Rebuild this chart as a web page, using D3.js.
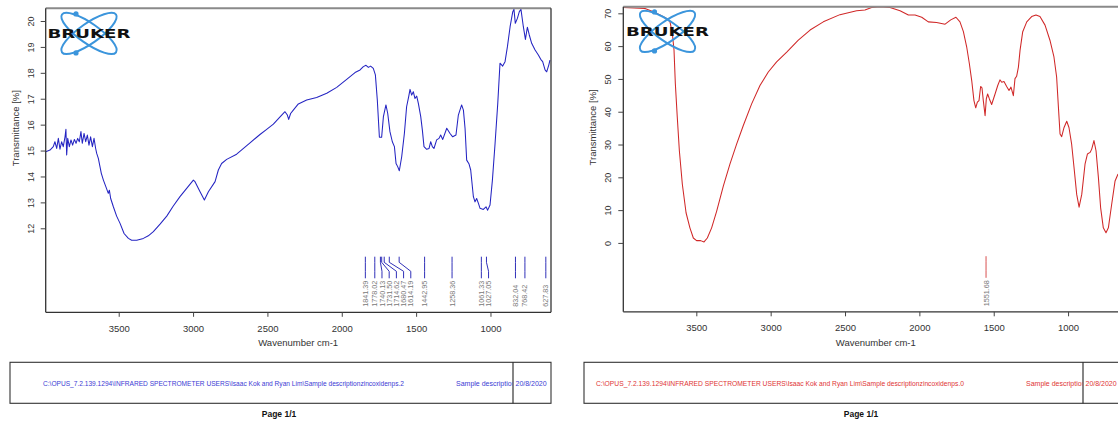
<!DOCTYPE html>
<html><head><meta charset="utf-8">
<script src="https://cdn.jsdelivr.net/npm/d3@7"></script>
<style>html,body{margin:0;padding:0;background:#fff;}svg{display:block}</style>
</head><body>
<script>
// ---------- data ----------
const xTicks = [3500, 3000, 2500, 2000, 1500, 1000];
const blueYTicks = [12, 13, 14, 15, 16, 17, 18, 19, 20];
const redYTicks = [0, 10, 20, 30, 40, 50, 60, 70];

const blueWn = [3991,3962,3940,3929,3917,3906,3895,3884,3873,3861,3855,3850,3843,3832,3821,3810,3798,3787,3776,3765,3754,3745,3733,3722,3711,3700,3689,3677,3666,3655,3648,3637,3626,3617,3603,3586,3570,3563,3554,3536,3514,3491,3464,3435,3413,3379,3334,3301,3267,3222,3177,3133,3088,3043,2998,2987,2953,2924,2897,2852,2830,2808,2774,2707,2617,2550,2505,2460,2415,2382,2366,2357,2344,2326,2292,2236,2169,2101,2034,1967,1911,1877,1855,1837,1821,1806,1788,1774,1761,1747,1732,1720,1703,1691,1676,1660,1646,1635,1624,1613,1597,1579,1564,1550,1541,1530,1519,1508,1496,1485,1469,1458,1447,1429,1413,1402,1391,1380,1362,1346,1335,1321,1294,1272,1254,1232,1216,1194,1182,1171,1160,1144,1133,1115,1104,1093,1081,1070,1048,1030,1019,1003,987,969,951,936,918,902,886,868,850,842,833,819,806,795,779,765,752,739,723,700,678,662,649,633,622,608,600];
const blueT = [14.95,15.02,15.15,15.34,15.08,15.47,15.05,15.34,15.15,15.53,15.82,14.83,15.47,15.15,15.41,15.21,15.43,15.28,15.47,15.34,15.73,15.28,15.66,15.34,15.60,15.21,15.53,15.15,15.47,15.08,14.89,14.70,14.38,14.12,13.86,13.60,13.35,13.47,13.15,12.83,12.47,12.19,11.80,11.61,11.54,11.54,11.61,11.71,11.87,12.16,12.47,12.86,13.22,13.54,13.86,13.80,13.41,13.09,13.41,13.80,14.25,14.50,14.66,14.86,15.30,15.62,15.82,16.02,16.30,16.50,16.37,16.20,16.43,16.56,16.80,16.95,17.05,17.21,17.44,17.75,18.01,18.11,18.24,18.29,18.21,18.26,18.17,17.92,16.95,15.51,15.51,16.31,16.76,16.43,15.73,15.34,15.15,14.50,14.38,14.22,14.76,15.66,16.69,17.08,17.36,17.14,17.27,17.01,17.10,16.82,16.31,15.79,15.15,15.05,15.08,15.34,15.15,15.08,15.41,15.47,15.60,15.43,15.86,15.66,15.53,15.60,16.37,16.76,16.56,15.86,14.63,14.48,14.25,13.22,13.02,13.15,12.96,12.77,12.73,12.83,12.70,12.90,13.86,15.28,16.82,18.37,18.26,18.43,19.01,19.78,20.36,20.45,19.91,20.10,20.36,20.45,19.78,19.29,19.76,19.46,19.14,18.88,18.69,18.52,18.43,18.11,18.04,18.30,18.49];

const redWn = [3991,3845,3789,3744,3699,3677,3661,3650,3641,3628,3614,3594,3569,3543,3520,3498,3471,3448,3426,3397,3363,3318,3274,3229,3184,3128,3072,3016,2960,2892,2814,2735,2646,2534,2422,2366,2321,2265,2197,2130,2074,2029,1984,1940,1884,1827,1789,1754,1727,1704,1682,1664,1648,1633,1621,1610,1599,1588,1579,1570,1558,1550,1541,1529,1514,1491,1473,1458,1446,1431,1413,1397,1384,1368,1357,1346,1334,1323,1305,1278,1245,1216,1189,1155,1122,1095,1077,1065,1054,1043,1027,1009,994,976,960,942,926,908,886,870,852,841,826,812,796,781,763,745,729,707,684,664];
const redT = [71.8,71.5,70.5,69.5,68.4,67.4,63.8,58.8,48.5,38.3,28.1,17.9,9.2,4.6,1.5,0.7,0.7,0.3,1.5,4.6,9.7,17.4,24.0,30.1,35.8,42.4,48.0,52.1,55.2,58.2,61.8,64.9,67.4,69.6,70.8,71.0,71.8,72.0,71.8,70.8,69.5,69.5,68.8,67.4,67.2,66.7,68.0,68.8,67.4,64.4,59.8,54.7,49.5,43.4,41.2,42.9,43.4,47.7,47.3,43.4,38.8,43.9,45.4,43.9,42.2,45.4,48.0,49.7,49.0,49.2,47.7,46.5,47.5,44.9,50.1,50.8,53.6,58.7,64.4,67.4,69.0,69.5,69.0,66.4,61.8,56.7,50.6,41.4,33.2,32.4,35.2,37.1,35.2,30.1,23.0,14.8,10.9,14.8,24.0,27.1,27.6,28.6,31.2,28.1,19.9,10.7,4.6,3.1,4.6,11.7,18.9,21.0];

const bluePeaks = [1841.39,1778.02,1740.13,1731.50,1714.62,1680.47,1614.19,1442.95,1258.36,1061.33,1027.05,832.04,768.42,627.83];
const redPeaks = [1551.68];

const xLabel = "Wavenumber cm-1";
const yLabel = "Transmittance [%]";
const bluePath = "C:\\OPUS_7.2.139.1294\\INFRARED SPECTROMETER USERS\\Isaac Kok and Ryan Lim\\Sample descriptionzincoxidenps.2";
const redPath = "C:\\OPUS_7.2.139.1294\\INFRARED SPECTROMETER USERS\\Isaac Kok and Ryan Lim\\Sample descriptionzincoxidenps.0";
const sampleText = "Sample description";
const dateText = "20/8/2020";
const pageText = "Page 1/1";

// ---------- drawing ----------
const W = 1118, H = 423;
const svg = d3.select("body").append("svg").attr("width", W).attr("height", H)
  .style("font-family", "'Liberation Sans', Arial, sans-serif");
svg.append("rect").attr("width", W).attr("height", H).attr("fill", "#fff");
const defs = svg.append("defs");

function drawPanel(p) {
  const g = svg.append("g");
  const x = d3.scaleLinear().domain([3991, 593]).range([p.left, p.left + 505.3]);
  const y = d3.scaleLinear().domain(p.yDomain).range([p.top, p.bottom]);
  const right = p.left + 505.3;

  defs.append("clipPath").attr("id", "clip" + p.id).append("rect")
    .attr("x", p.left).attr("y", p.top - 1).attr("width", 505.3).attr("height", p.bottom - p.top + 1);

  // curve
  const pts = p.wn.map((w, i) => [w, p.t[i]]);
  g.append("path").datum(pts)
    .attr("d", d3.line().x(d => x(d[0])).y(d => y(d[1])))
    .attr("fill", "none").attr("stroke", p.color).attr("stroke-width", 1.05)
    .attr("stroke-linejoin", "round")
    .attr("clip-path", `url(#clip${p.id})`);

  // frame
  g.append("line").attr("x1", p.left).attr("x2", Math.min(right, W)).attr("y1", p.top).attr("y2", p.top)
    .attr("stroke", "#8a8a8a").attr("stroke-width", 2);
  g.append("line").attr("x1", p.left).attr("x2", p.left).attr("y1", p.top).attr("y2", p.bottom)
    .attr("stroke", "#333").attr("stroke-width", 1.3);
  g.append("line").attr("x1", p.left).attr("x2", right).attr("y1", p.bottom).attr("y2", p.bottom)
    .attr("stroke", "#333").attr("stroke-width", 1.3);
  g.append("line").attr("x1", right).attr("x2", right).attr("y1", p.top).attr("y2", p.bottom)
    .attr("stroke", "#222").attr("stroke-width", 1.2);

  // x axis
  const xa = g.append("g").attr("transform", `translate(0,${p.bottom})`)
    .call(d3.axisBottom(x).tickValues(xTicks).tickSize(4.5).tickSizeOuter(0).tickPadding(8).tickFormat(d3.format("d")));
  xa.select(".domain").remove();
  xa.selectAll("line").attr("stroke", "#444");
  xa.selectAll("text").attr("font-size", 9.5).attr("fill", "#333")
    .attr("font-family", "'Liberation Sans', Arial, sans-serif");

  // y axis
  const ya = g.append("g").attr("transform", `translate(${p.left},0)`)
    .call(d3.axisLeft(y).tickValues(p.yTicks).tickSize(5).tickSizeOuter(0).tickFormat(d3.format("d")));
  ya.select(".domain").remove();
  ya.selectAll("line").attr("stroke", "#444");
  ya.selectAll("text").attr("x", null).attr("dy", "0.35em")
    .attr("transform", "translate(-15,0) rotate(-90)").attr("text-anchor", "middle")
    .attr("font-size", 9).attr("fill", "#333")
    .attr("font-family", "'Liberation Sans', Arial, sans-serif");

  // axis titles
  g.append("text").attr("x", p.left + 252.5).attr("y", p.bottom + 34).attr("text-anchor", "middle")
    .attr("font-size", 9.5).attr("fill", "#333").text(xLabel);
  g.append("text").attr("transform", `translate(${p.left - 30.5},${(p.top + 240) / 2 + 4}) rotate(-90)`)
    .attr("text-anchor", "middle").attr("dy", "0.35em").attr("font-size", 9.5).attr("fill", "#333").text(yLabel);

  // peak markers
  let prev = -1e9;
  const labelX = p.peaks.map(w => { const lx = Math.max(x(w), prev + 7.2); prev = lx; return lx; });
  const b = p.bottom;
  p.peaks.forEach((w, i) => {
    const px = x(w), lx = labelX[i];
    const path = d3.path();
    path.moveTo(px, b - 55.6);
    path.lineTo(px, b - 50);
    path.lineTo(lx, b - 41);
    path.lineTo(lx, b - 34);
    g.append("path").attr("d", path.toString()).attr("fill", "none")
      .attr("stroke", p.peakColor).attr("stroke-width", 1);
    g.append("text").attr("transform", `translate(${lx},${b - 5.5}) rotate(-90)`)
      .attr("dy", "0.35em").attr("font-size", 7.2).attr("fill", "#777").text(w.toFixed(2));
  });

  // logo
  const lg = g.append("g").attr("transform", `translate(${p.logo[0]},${p.logo[1]})`);
  [35, -35].forEach(a => {
    lg.append("ellipse").attr("rx", 33).attr("ry", 10).attr("transform", `rotate(${a})`)
      .attr("fill", "none").attr("stroke", "#3b95dc").attr("stroke-width", 2);
  });
  lg.append("circle").attr("cx", -13).attr("cy", -19.5).attr("r", 2.6).attr("fill", "#3b95dc");
  lg.append("circle").attr("cx", -13).attr("cy", 19.5).attr("r", 2.6).attr("fill", "#3b95dc");
  lg.append("text").attr("x", -41.5).attr("y", 0).attr("dy", "0.36em")
    .attr("font-family", "'DejaVu Sans', sans-serif").attr("font-weight", "bold")
    .attr("font-size", 13).attr("fill", "#111")
    .attr("textLength", 83).attr("lengthAdjust", "spacingAndGlyphs").text("BRUKER");

  // footer
  const fy = 362.3, fh = 41;
  const fg = svg.append("g");
  fg.append("rect").attr("x", p.boxLeft).attr("y", fy).attr("width", 541).attr("height", fh)
    .attr("fill", "none").attr("stroke", "#333").attr("stroke-width", 1.1);
  const div = p.boxLeft + p.divOff;
  fg.append("line").attr("x1", div).attr("x2", div).attr("y1", fy).attr("y2", fy + fh)
    .attr("stroke", "#222").attr("stroke-width", 1.1);
  defs.append("clipPath").attr("id", "fclip" + p.id).append("rect")
    .attr("x", p.boxLeft).attr("y", fy).attr("width", p.divOff - 0.5).attr("height", fh);
  fg.append("text").attr("x", p.textX).attr("y", fy + 21).attr("dy", "0.35em")
    .attr("font-size", 7).attr("fill", p.footColor)
    .attr("textLength", p.textW).attr("lengthAdjust", "spacingAndGlyphs").text(p.path);
  fg.append("text").attr("x", div - 57).attr("y", fy + 21).attr("dy", "0.35em")
    .attr("font-size", 7).attr("fill", p.footColor).attr("clip-path", `url(#fclip${p.id})`).text(sampleText);
  fg.append("text").attr("x", div + 2.5).attr("y", fy + 21).attr("dy", "0.35em")
    .attr("font-size", 7).attr("fill", p.footColor).text(dateText);
  fg.append("text").attr("x", p.pageX).attr("y", 414.5).attr("dy", "0.35em").attr("text-anchor", "middle")
    .attr("font-size", 8.5).attr("font-weight", "bold").attr("fill", "#111").text(pageText);
}

drawPanel({id: "b", left: 45.7, top: 8.3, bottom: 312.3, yDomain: [20.49, 8.758], yTicks: blueYTicks,
  wn: blueWn, t: blueT, color: "#2424c2", peaks: bluePeaks, peakColor: "#3030b8",
  logo: [89, 33.4], boxLeft: 10, divOff: 503, textX: 43, textW: 361, pageX: 279,
  path: bluePath, footColor: "#3b3bd4"});
drawPanel({id: "r", left: 623.3, top: 6.7, bottom: 311.8, yDomain: [72.02, -21.0], yTicks: redYTicks,
  wn: redWn, t: redT, color: "#d02828", peaks: redPeaks, peakColor: "#d85050",
  logo: [667.5, 31.4], boxLeft: 584, divOff: 499, textX: 596, textW: 368, pageX: 861,
  path: redPath, footColor: "#e03434"});
</script>
</body></html>
